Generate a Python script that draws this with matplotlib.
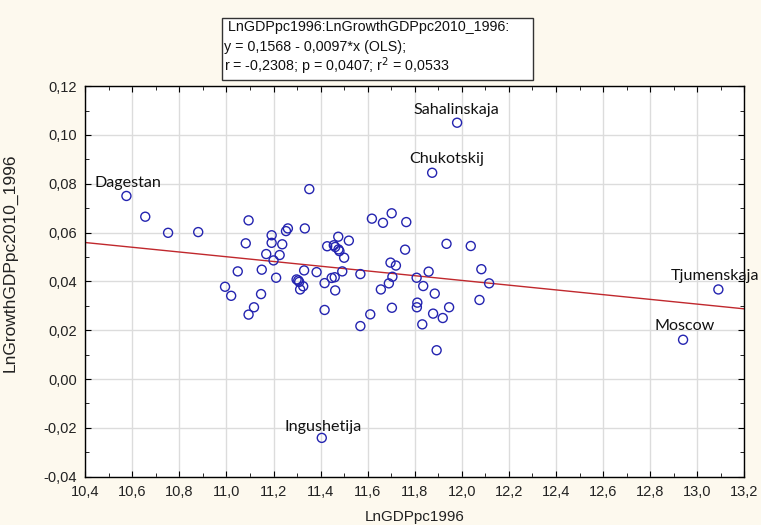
import numpy as np
import matplotlib
matplotlib.use("Agg")
import matplotlib.pyplot as plt
from matplotlib.patches import Rectangle
from matplotlib.ticker import MultipleLocator, FuncFormatter

# data
ln_gdp_1996 = [10.575, 10.655, 10.752, 10.880, 10.994, 11.020, 11.048, 11.082, 11.094, 11.094,
               11.117, 11.147, 11.150, 11.169, 11.192, 11.192, 11.200, 11.211, 11.226, 11.237,
               11.253, 11.261, 11.298, 11.305, 11.309, 11.326, 11.313, 11.330, 11.333, 11.352,
               11.383, 11.405, 11.417, 11.417, 11.428, 11.447, 11.456, 11.460, 11.462, 11.475,
               11.476, 11.480, 11.492, 11.500, 11.520, 11.569, 11.569, 11.611, 11.618, 11.656,
               11.665, 11.690, 11.697, 11.702, 11.703, 11.705, 11.720, 11.759, 11.764, 11.808,
               11.811, 11.809, 11.832, 11.836, 11.859, 11.874, 11.878, 11.885, 11.893, 11.919,
               11.935, 11.946, 11.980, 12.038, 12.075, 12.083, 12.116, 12.940, 13.090, 11.462]
ln_growth = [0.0750, 0.0665, 0.0599, 0.0602, 0.0378, 0.0341, 0.0441, 0.0556, 0.0650, 0.0264,
             0.0294, 0.0348, 0.0448, 0.0512, 0.0589, 0.0558, 0.0486, 0.0415, 0.0508, 0.0552,
             0.0606, 0.0617, 0.0408, 0.0404, 0.0398, 0.0380, 0.0367, 0.0445, 0.0617, 0.0778,
             0.0438, -0.0241, 0.0393, 0.0283, 0.0544, 0.0414, 0.0548, 0.0417, 0.0363, 0.0583,
             0.0531, 0.0524, 0.0441, 0.0497, 0.0567, 0.0430, 0.0217, 0.0265, 0.0657, 0.0367,
             0.0640, 0.0392, 0.0477, 0.0679, 0.0292, 0.0419, 0.0465, 0.0530, 0.0643, 0.0415,
             0.0313, 0.0294, 0.0224, 0.0381, 0.0440, 0.0845, 0.0268, 0.0350, 0.0118, 0.0250,
             0.0554, 0.0294, 0.1050, 0.0545, 0.0324, 0.0450, 0.0392, 0.0161, 0.0367, 0.0541]

# labelled regions: name, index of point, text offset in pixels
labels = [("Dagestan", 0, (2, 13)),
          ("Sahalinskaja", 72, (-1, 13)),
          ("Chukotskij", 65, (15, 14)),
          ("Tjumenskaja", 78, (-3, 13)),
          ("Moscow", 77, (2, 14)),
          ("Ingushetija", 31, (1, 11))]

intercept = 0.1568
slope = -0.0097

bg = "#fdf9ee"
fig = plt.figure(figsize=(7.61, 5.25), dpi=100, facecolor=bg)
ax = fig.add_axes([0.112, 0.092, 0.866, 0.744])
ax.set_facecolor("white")

ax.grid(True, color="#dcdcdc", lw=1, zorder=0)
ax.set_axisbelow(True)

xl = np.array([10.4, 13.2])
ax.plot(xl, intercept + slope * xl, color="#c0282d", lw=1, zorder=2)

ax.scatter(ln_gdp_1996, ln_growth, s=42, facecolors="none", edgecolors="#2424b0",
           linewidths=1, zorder=3)

for name, i, off in labels:
    ax.annotate(name, (ln_gdp_1996[i], ln_growth[i]), xytext=off, textcoords="offset pixels",
                ha="center", va="center", fontsize=11.6, family="Lato", color="#111111",
                annotation_clip=False, zorder=4)

ax.set_xlim(10.4, 13.2)
ax.set_ylim(-0.04, 0.12)
ax.xaxis.set_major_locator(MultipleLocator(0.2))
ax.xaxis.set_minor_locator(MultipleLocator(0.1))
ax.yaxis.set_major_locator(MultipleLocator(0.02))
ax.yaxis.set_minor_locator(MultipleLocator(0.01))
ax.xaxis.set_major_formatter(FuncFormatter(lambda v, p: f"{v:.1f}".replace(".", ",")))
ax.yaxis.set_major_formatter(FuncFormatter(lambda v, p: f"{v:.2f}".replace(".", ",").replace("-0,00", "0,00")))
ax.tick_params(which="both", direction="in", top=True, right=True, color="black",
               labelsize=10.5, labelcolor="#222222")
ax.tick_params(which="major", length=4)
ax.tick_params(which="minor", length=3)
ax.tick_params(axis="x", which="major", pad=6)
ax.tick_params(axis="y", which="major", pad=6)
for lab in ax.get_xticklabels() + ax.get_yticklabels():
    lab.set_family("Liberation Sans")
for s in ax.spines.values():
    s.set_color("black")
    s.set_linewidth(1)

ax.set_xlabel("LnGDPpc1996", family="Liberation Sans", fontsize=11, color="#222222", labelpad=8)
ax.set_ylabel("LnGrowthGDPpc2010_1996", family="Liberation Sans", fontsize=12.5, color="#222222")
ax.yaxis.set_label_coords(-0.103, 0.547)

# statistics box
fig.patches.append(Rectangle((0.2917, 0.8476), 0.4087, 0.118, transform=fig.transFigure,
                             facecolor="white", edgecolor="#333333", lw=1, figure=fig))
box_lines = [" LnGDPpc1996:LnGrowthGDPpc2010_1996:",
             "y = 0,1568 - 0,0097*x (OLS);",
             "r = -0,2308; p = 0,0407; r$^2$ = 0,0533"]
for k, line in enumerate(box_lines):
    fig.text(0.2945, 0.948 - k * 0.037, line, family="Liberation Sans", fontsize=10.3,
             color="#111111", ha="left", va="center")

fig.savefig("out.png", dpi=100, facecolor=bg)
